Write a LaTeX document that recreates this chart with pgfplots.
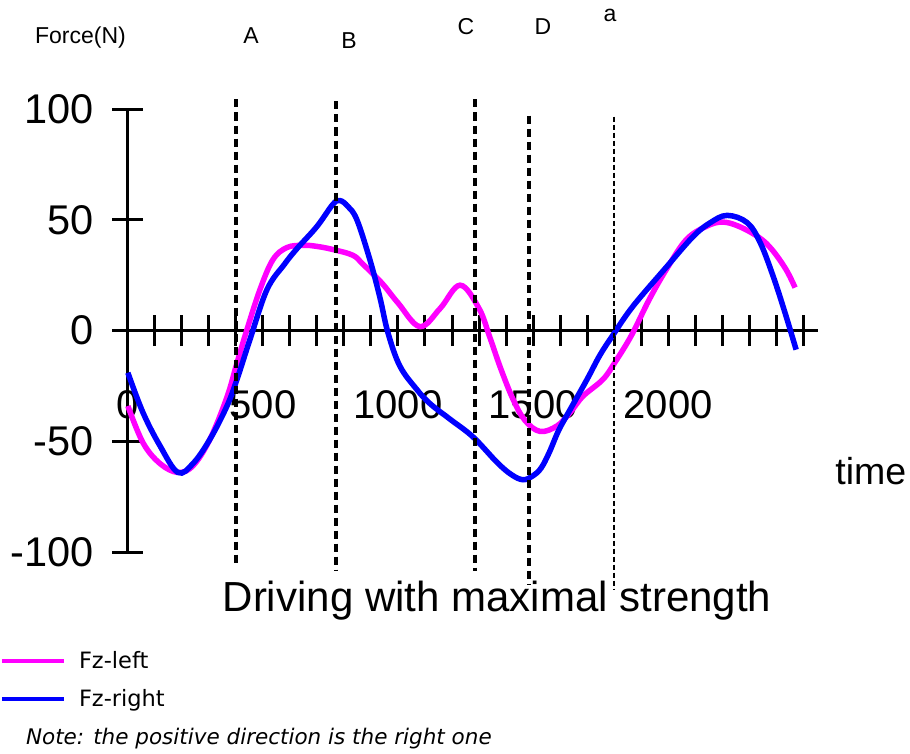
\documentclass[border=0pt]{standalone}
\usepackage{pgfplots}
\pgfplotsset{compat=1.18}
\usepackage{fontspec}
\setmainfont{Liberation Sans}
\newfontfamily\dejavu{DejaVu Sans}
\definecolor{fzl}{RGB}{255,0,255}
\definecolor{fzr}{RGB}{0,0,255}
\begin{document}
\begin{tikzpicture}
\begin{axis}[
  scale only axis, width=704.7pt, height=443pt,
  xmin=-55, xmax=2555, ymin=-100, ymax=100,
  axis lines=middle,
  axis line style={-, line width=3pt, black},
  clip=false,
  xtick={0,100,...,2500},
  xticklabels={0,,,,,500,,,,,1000,,,,,1500,,,,,2000,,,,,},
  ytick={-100,-50,0,50,100},
  yticklabels={-100,-50,0,50,100},
  tick align=center, major tick length=31pt,
  every tick/.style={line width=3pt, black},
  hide obscured x ticks=false, hide obscured y ticks=false,
  ticklabel style={font=\fontsize{40}{48}\selectfont},
  yticklabel style={anchor=east, xshift=-15pt, font=\fontsize{41.5}{48}\selectfont},
  xticklabel style={anchor=center, yshift=-59pt},
  legend style={at={(axis description cs:-0.1603,-0.219)}, anchor=north west,
    draw=none, fill=none, inner sep=0pt, outer sep=0pt,
    font=\dejavu\fontsize{22.5}{27}\selectfont, row sep=16pt,
    cells={anchor=west},
    /tikz/every odd column/.append style={column sep=11pt}},
  legend image code/.code={\draw[#1, line width=4pt] (0pt,0pt) -- (62pt,0pt);},
]
\addplot[fzl, line width=5.5pt, smooth, tension=0.6] coordinates {
(0,-34) (56,-50.6) (119,-60) (185,-64) (241,-61) (304,-49) (367,-30) (404,-14.6)
(441,0.5) (489,18.5) (537,32) (589,37.5) (650,38.5) (700,38) (759,36.6) (833,34)
(870,30) (940,21.5) (1000,12.5) (1081,1.8) (1156,10) (1230,20.5) (1300,10)
(1340,-3) (1380,-17) (1426,-31) (1470,-40.5) (1526,-45.5) (1589,-43) (1637,-37)
(1685,-29.6) (1759,-22) (1805,-14) (1865,-2) (1930,14) (1993,27.5) (2067,41)
(2141,47) (2200,49) (2263,47) (2337,42) (2385,36.5) (2437,27.5) (2470,19.4)
};
\addlegendentry{Fz-left}
\addplot[fzr, line width=5.5pt, smooth, tension=0.6] coordinates {
(0,-19) (56,-37) (119,-52) (185,-64) (241,-60) (304,-49) (367,-34) (404,-22)
(452,-4) (515,18.5) (580,30) (626,37) (700,47) (759,57) (785,58.7) (815,56)
(848,50) (896,32) (933,15) (963,-1) (1007,-16) (1070,-26.6) (1119,-33) (1193,-40)
(1278,-48) (1367,-59.5) (1420,-65) (1463,-67.3) (1500,-65.5) (1530,-62) (1560,-55) (1595,-45) (1637,-35.7) (1700,-22)
(1748,-11) (1796,-2) (1870,11) (1996,29) (2093,42.5) (2156,48.7) (2219,52)
(2293,48.7) (2341,39.7) (2389,24.5) (2433,8) (2474,-8.6)
};
\addlegendentry{Fz-right}
\addplot[forget plot, black, line width=3.5pt, dash pattern=on 8pt off 5pt] coordinates {(400,104.3) (400,-106.5)};
\addplot[forget plot, black, line width=3.5pt, dash pattern=on 8pt off 5pt] coordinates {(770,103.4) (770,-107.9)};
\addplot[forget plot, black, line width=3.5pt, dash pattern=on 8pt off 5pt] coordinates {(1285,104.3) (1285,-108.4)};
\addplot[forget plot, black, line width=3.5pt, dash pattern=on 8pt off 5pt] coordinates {(1485,97) (1485,-114.7)};
\addplot[forget plot, black, line width=2.5pt, dash pattern=on 5pt off 3pt] coordinates {(1800,96.6) (1800,-117)};
\node[anchor=base west, inner sep=0pt, font=\fontsize{23}{27}\selectfont] at (axis cs:-344.4,129.6) {Force(N)};
\node[anchor=base, inner sep=0pt, font=\fontsize{23}{27}\selectfont] at (axis cs:455.6,129.6) {A};
\node[anchor=base, inner sep=0pt, font=\fontsize{23}{27}\selectfont] at (axis cs:818.5,127.3) {B};
\node[anchor=base, inner sep=0pt, font=\fontsize{23}{27}\selectfont] at (axis cs:1251.9,133.6) {C};
\node[anchor=base, inner sep=0pt, font=\fontsize{23}{27}\selectfont] at (axis cs:1537,133.6) {D};
\node[anchor=base, inner sep=0pt, font=\fontsize{23}{27}\selectfont] at (axis cs:1785,139.5) {a};
\node[anchor=base, inner sep=0pt, font=\fontsize{42}{50}\selectfont] at (axis cs:1366.7,-126.6) {Driving with maximal strength};
\node[anchor=base west, inner sep=0pt, font=\fontsize{37.5}{44}\selectfont] at (axis cs:2618.5,-69.5) {time};
\node[anchor=base west, inner sep=0pt, font=\dejavu\itshape\fontsize{21.5}{26}\selectfont] at (axis cs:-377.8,-187) {Note: the positive direction is the right one};
\coordinate (bl) at (axis description cs:-0.1603,-0.4537);
\coordinate (tr) at (axis description cs:1.1305,1.2460);
\end{axis}
\pgfresetboundingbox
\useasboundingbox (bl) rectangle (tr);
\end{tikzpicture}
\end{document}
